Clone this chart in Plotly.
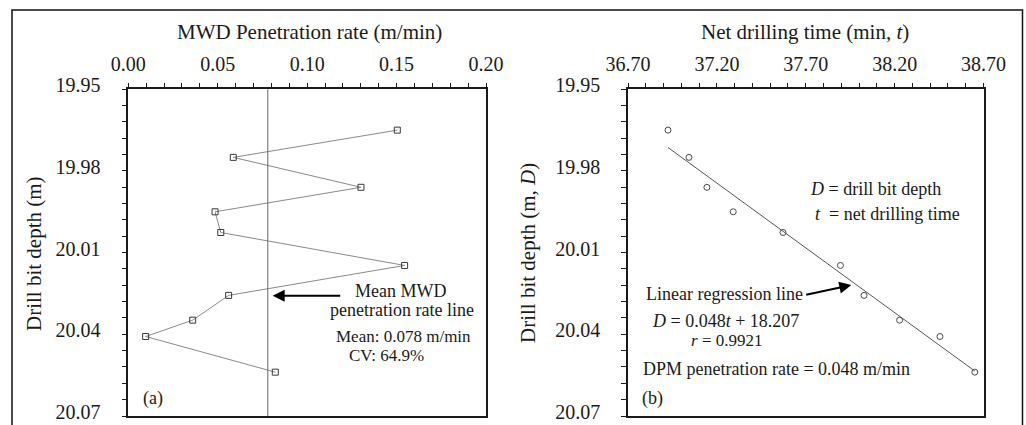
import numpy as np
import plotly.graph_objects as go

# ---------------- data ----------------
depth = [19.965, 19.975, 19.986, 19.995, 20.0026, 20.0147, 20.0257, 20.0348, 20.0408, 20.0539]
mwd_rate = [0.1504, 0.0587, 0.1301, 0.0485, 0.0517, 0.1545, 0.0561, 0.0360, 0.0097, 0.0822]
net_time = [36.925, 37.043, 37.144, 37.292, 37.572, 37.895, 38.028, 38.228, 38.455, 38.651]
mean_rate = 0.078
rate_ticks = [0.00, 0.05, 0.10, 0.15, 0.20]
time_ticks = [36.70, 37.20, 37.70, 38.20, 38.70]
depth_ticks = [19.95, 19.98, 20.01, 20.04, 20.07]

W, H = 1026, 425
FONT = "Liberation Serif"
INK = "#1a1a1a"


def px(x):
    return x / W


def py(y):
    return 1 - y / H


# pixel -> data helpers for note placement (plot boxes are fixed below)
L_X0, L_X1 = 128.3, 486.0
R_X0, R_X1 = 628.0, 983.5
Y0, Y1 = 89.3, 416.0


def dy(p):
    return 19.95 + (p - Y0) / (Y1 - Y0) * 0.12


def dxa(p):
    return (p - L_X0) / (L_X1 - L_X0) * 0.2


def dxb(p):
    return 36.7 + (p - R_X0) / (R_X1 - R_X0) * 2.0


fig = go.Figure()

# (a) MWD penetration rate profile
fig.add_trace(go.Scatter(
    x=mwd_rate, y=depth, mode="lines+markers", xaxis="x", yaxis="y",
    line=dict(color="#8a8a8a", width=1),
    marker=dict(symbol="square-open", size=6, color="#3a3a3a", line=dict(width=1)),
    showlegend=False, hoverinfo="skip"))

# (b) depth vs net drilling time + linear regression
coef = np.polyfit(net_time, depth, 1)
t_fit = np.array([min(net_time), max(net_time)])
fig.add_trace(go.Scatter(
    x=net_time, y=depth, mode="markers", xaxis="x2", yaxis="y2",
    marker=dict(symbol="circle-open", size=6, color="#4a4a4a", line=dict(width=1)),
    showlegend=False, hoverinfo="skip"))
fig.add_trace(go.Scatter(
    x=t_fit, y=np.polyval(coef, t_fit), mode="lines", xaxis="x2", yaxis="y2",
    line=dict(color="#555555", width=1), showlegend=False, hoverinfo="skip"))

axis_common = dict(
    showline=True, linecolor=INK, linewidth=1.5, mirror=True,
    ticks="outside", ticklen=5, tickwidth=1.2, tickcolor=INK,
    showgrid=False, zeroline=False, automargin=False,
    ticklabeloverflow="allow",
    tickfont=dict(family=FONT, size=20, color=INK),
)

fig.update_layout(
    width=W, height=H, autosize=False,
    margin=dict(l=0, r=0, t=0, b=0, pad=0),
    paper_bgcolor="white", plot_bgcolor="white",
    xaxis=dict(**axis_common, domain=[px(L_X0), px(L_X1)], range=[0, 0.2], side="top",
               anchor="y", tickmode="array", tickvals=rate_ticks,
               ticktext=[f"{v:.2f}" for v in rate_ticks], ticklabelstandoff=4,
               minor=dict(tick0=0, dtick=0.01, ticks="outside", ticklen=5,
                          tickwidth=1.2, tickcolor=INK)),
    yaxis=dict(**axis_common, domain=[py(Y1), py(Y0)], range=[20.07, 19.95],
               anchor="x", tickmode="array", tickvals=depth_ticks,
               ticktext=[f"{v:.2f}" for v in depth_ticks], ticklabelstandoff=17,
               ticklabelshift=4,
               minor=dict(tick0=19.95, dtick=0.006, ticks="outside", ticklen=5,
                          tickwidth=1.2, tickcolor=INK)),
    xaxis2=dict(**axis_common, domain=[px(R_X0), px(R_X1)], range=[36.7, 38.7], side="top",
                anchor="y2", tickmode="array", tickvals=time_ticks,
                ticktext=[f"{v:.2f}" for v in time_ticks], ticklabelstandoff=4,
                minor=dict(tick0=36.7, dtick=0.1, ticks="outside", ticklen=5,
                           tickwidth=1.2, tickcolor=INK)),
    yaxis2=dict(**axis_common, domain=[py(Y1), py(Y0)], range=[20.07, 19.95],
                anchor="x2", tickmode="array", tickvals=depth_ticks,
                ticktext=[f"{v:.2f}" for v in depth_ticks], ticklabelstandoff=17,
                ticklabelshift=4,
                minor=dict(tick0=19.95, dtick=0.006, ticks="outside", ticklen=5,
                           tickwidth=1.2, tickcolor=INK)),
)

# mean MWD penetration rate line
fig.add_shape(type="line", xref="x", yref="y domain", x0=mean_rate, x1=mean_rate,
              y0=0, y1=1, line=dict(color="#666666", width=1))

# outer frame
fig.add_shape(type="rect", xref="paper", yref="paper", x0=px(12), x1=px(1022.5),
              y0=-0.1, y1=py(10), line=dict(color="#111111", width=1.5))

ann = []


def text(x, y, s, xref, yref, size=17, xanchor="center", angle=0):
    ann.append(dict(x=x, y=y, xref=xref, yref=yref, text=s, showarrow=False,
                    xanchor=xanchor, yanchor="middle", textangle=angle,
                    font=dict(family=FONT, size=size, color=INK)))


# axis titles
text(px(309), py(32), "MWD Penetration rate (m/min)", "paper", "paper", size=21)
text(px(34), py(254), "Drill bit depth (m)", "paper", "paper", size=21, angle=-90)
text(px(805), py(32), "Net drilling time (min, <i>t</i>)", "paper", "paper", size=21)
text(px(528), py(253), "Drill bit depth (m, <i>D</i>)", "paper", "paper", size=21, angle=-90)

# panel (a) notes
text(dxa(400), dy(290.5), "Mean MWD", "x", "y", size=18)
text(dxa(402), dy(310), "penetration rate line", "x", "y", size=18)
text(dxa(403), dy(336.5), "Mean: 0.078 m/min", "x", "y")
text(dxa(346.5), dy(355.5), "CV: 64.9%", "x", "y", xanchor="left")
text(dxa(153), dy(398), "(a)", "x", "y", size=18)
ann.append(dict(x=dxa(272.7), y=dy(295.7), ax=dxa(341.7), ay=dy(295.7), xref="x", yref="y",
                axref="x", ayref="y", text="", showarrow=True, arrowhead=2,
                arrowsize=1.2, arrowwidth=2, arrowcolor="black"))

# panel (b) notes
text(dxb(808), dy(189), "<i>D</i> = drill bit depth", "x2", "y2", xanchor="left", size=18)
text(dxb(813), dy(213.5), "<i>t</i>  = net drilling time", "x2", "y2", xanchor="left", size=18)
text(dxb(643.7), dy(294.3), "Linear regression line", "x2", "y2", xanchor="left", size=18)
text(dxb(725.7), dy(320.5), "<i>D</i> = 0.048<i>t</i> + 18.207", "x2", "y2", size=18)
text(dxb(726), dy(340), "<i>r</i> = 0.9921", "x2", "y2")
text(dxb(641.3), dy(369.3), "DPM penetration rate = 0.048 m/min", "x2", "y2", xanchor="left", size=18)
text(dxb(639.7), dy(398), "(b)", "x2", "y2", xanchor="left", size=18)
ann.append(dict(x=dxb(851.3), y=dy(285), ax=dxb(804.7), ay=dy(295), xref="x2", yref="y2",
                axref="x2", ayref="y2", text="", showarrow=True, arrowhead=2,
                arrowsize=1.2, arrowwidth=2, arrowcolor="black"))

fig.update_layout(annotations=ann)
fig.write_html("out.html")
